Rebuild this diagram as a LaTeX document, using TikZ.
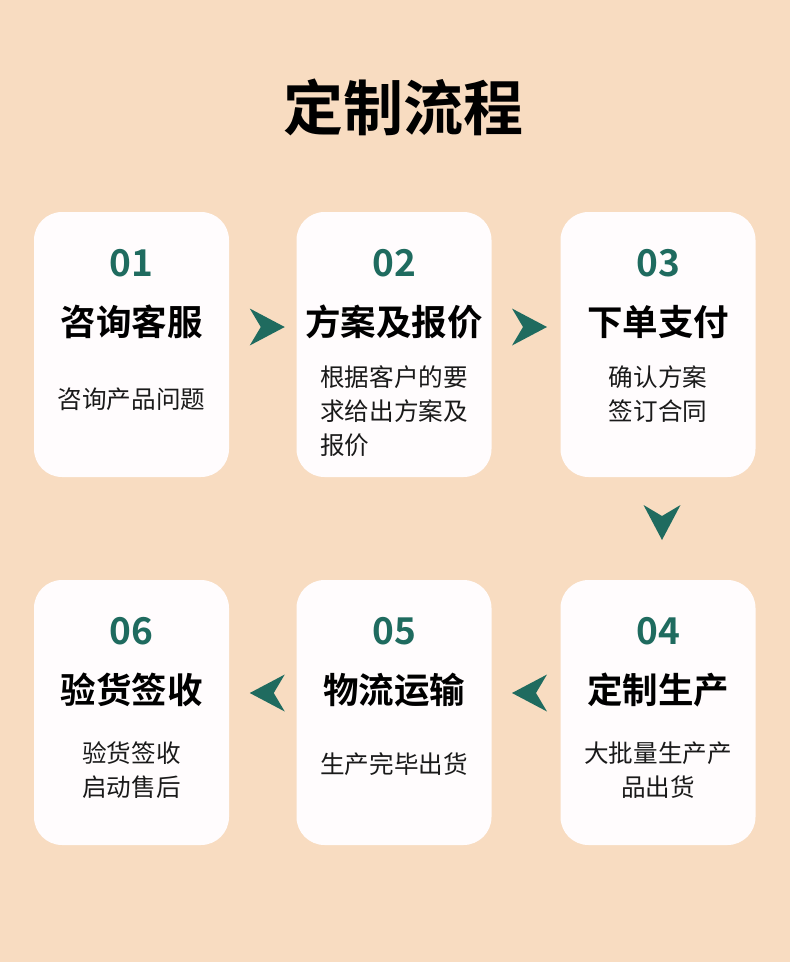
\documentclass[tikz,border=0pt]{standalone}
\usepackage{fontspec}
\setmainfont{Noto Sans CJK SC}[BoldFont={Noto Sans CJK SC Bold}]
\usepackage{xcolor}
\definecolor{fondPeche}{HTML}{F8DCC1}
\definecolor{carteBlanc}{HTML}{FFFCFD}
\definecolor{vertSapin}{HTML}{1F6B5F}
\definecolor{texteNoir}{HTML}{1A1A1A}
\usetikzlibrary{positioning, calc}
\tikzset{
  %% -- Cartes ----------------------------------------------------------
  carte/.style    = {fill=carteBlanc, rounded corners=28pt, minimum width=195pt,
                     minimum height=265pt, inner sep=0pt},
  %% -- Texte -----------------------------------------------------------
  titreGrand/.style = {font=\fontsize{60}{60}\selectfont\bfseries, text=black,
                     inner sep=0pt},
  numero/.style   = {font=\fontsize{37}{37}\selectfont\bfseries, text=vertSapin,
                     inner sep=0pt},
  titreCarte/.style = {font=\fontsize{35.5}{35.5}\selectfont\bfseries, text=black,
                     inner sep=0pt},
  descCarte/.style = {font=\fontsize{24.6}{34}\selectfont, text=texteNoir,
                     align=center, inner sep=0pt},
  %% -- Chevrons --------------------------------------------------------
  chevron/.pic    = {\fill[vertSapin] (-17.5,-18.5) -- (17.5,0) -- (-17.5,18.5)
                     -- (-6.5,0) -- cycle;},
}

\begin{document}
\begin{tikzpicture}[x=1pt, y=-1pt]

\fill[fondPeche] (0,0) rectangle (790,962);
\useasboundingbox (0,0) rectangle (790,962);

\node[titreGrand] (titre) at (403.5,107) {定制流程};

\foreach \n/\x/\y/\num/\nom in {1/131.5/344.5/01/咨询客服, 2/394/344.5/02/方案及报价,
    3/658/344.5/03/下单支付, 4/658/712.5/04/定制生产, 5/394/712.5/05/物流运输,
    6/131.5/712.5/06/验货签收}
{
  \node[carte] (c\n) at (\x,\y) {};
  \node[numero] (n\n) at ([yshift=-51pt]c\n.north) {\num};
  \node[titreCarte] (t\n) at ([yshift=-59pt]n\n.center) {\nom};
}

\node[descCarte] (d1) at ([yshift=-187pt]c1.north) {咨询产品问题};
\node[descCarte, align=left] (d2) at ([yshift=-199pt]c2.north)
     {根据客户的要\\求给出方案及\\报价};
\node[descCarte] (d3) at ([yshift=-182pt]c3.north) {确认方案\\签订合同};
\node[descCarte] (d4) at ([yshift=-190pt]c4.north) {大批量生产产\\品出货};
\node[descCarte] (d5) at ([yshift=-184pt]c5.north) {生产完毕出货};
\node[descCarte] (d6) at ([yshift=-190pt]c6.north) {验货签收\\启动售后};

\pic at ($(c1.east)!0.5!(c2.west)+(4.5,-17.5)$) {chevron};
\pic at ($(c2.east)!0.5!(c3.west)+(3.5,-17.5)$) {chevron};
\pic[rotate=-90] at ($(c3.south)!0.5!(c4.north)+(4,-6)$) {chevron};
\pic[rotate=180] at ($(c4.west)!0.5!(c5.east)+(3.5,-19.5)$) {chevron};
\pic[rotate=180] at ($(c5.west)!0.5!(c6.east)+(4.5,-19.5)$) {chevron};

\end{tikzpicture}
\end{document}
